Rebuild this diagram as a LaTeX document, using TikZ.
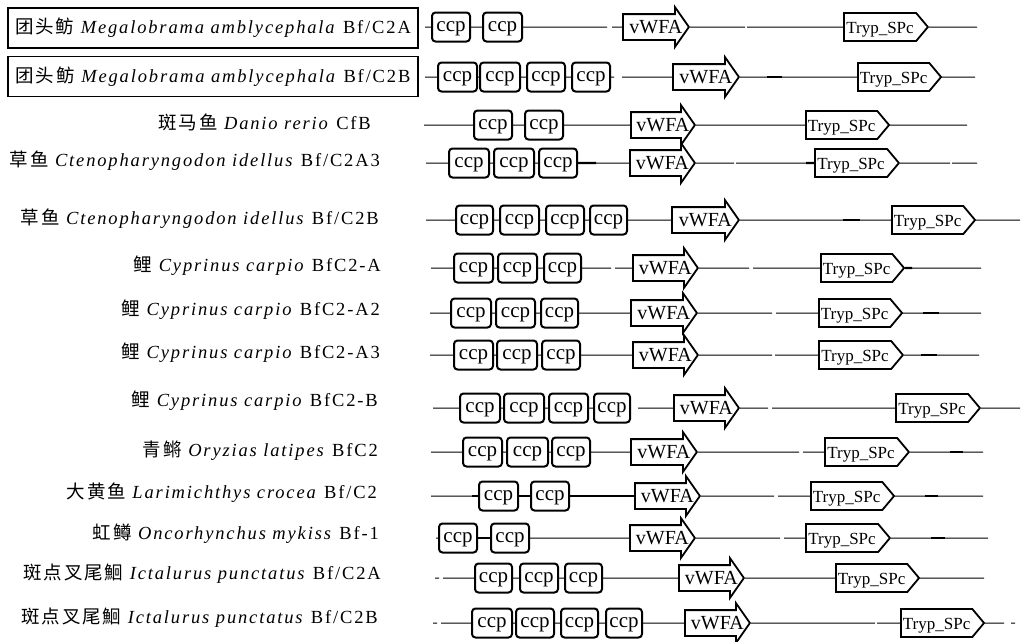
\documentclass[tikz,border=0pt]{standalone}
\usepackage{fontspec}
\setmainfont{Liberation Serif}
\newfontfamily\labfont[LetterSpace=10]{Liberation Serif}
\newfontfamily\cjkfont[LetterSpace=10]{Noto Sans CJK SC}
\usetikzlibrary{shapes.arrows,shapes.symbols}
\newcommand\fishlab[3]{{\cjkfont #1}\ \textit{#2}\ #3}
\newcommand\ccpN[4]{\node[ccpbox, minimum width={#3-#2}] (#1) at ({(#2+#3)/2},#4) {ccp};}
\newcommand\vwN[4]{\node[vwfa, minimum height={#3-#2}, anchor=tail] (#1) at (#2,#4) {\makebox[44pt][l]{vWFA}};}
\newcommand\trN[4]{\node[tryp, minimum width={#3-#2}, anchor=west] (#1) at (#2,#4) {Tryp\_SPc};}
\newcommand\ptN[3]{\coordinate (#1) at (#2,#3);}
\begin{document}
\begin{tikzpicture}[x=1pt,y=-1pt,
  ccpbox/.style={draw, line width=2pt, rounded corners=3.5pt, minimum height=29pt, inner sep=0pt, text height=12.5pt, text depth=4pt, font=\fontsize{21}{21}\selectfont},
  vwfa/.style={single arrow, draw, line width=1.8pt, single arrow head extend=7pt, single arrow tip angle=110, inner xsep=0.5pt, inner ysep=5pt, text height=13pt, text depth=1pt, font=\fontsize{20}{20}\selectfont},
  tryp/.style={signal, signal to=east, signal pointer angle=100, draw, line width=1.8pt, minimum height=28pt, inner xsep=2pt, inner ysep=0pt, text height=15pt, text depth=3pt, font=\fontsize{17}{17}\selectfont},
  lbl/.style={anchor=east, inner sep=0pt, font=\labfont\fontsize{18.5}{20}\selectfont},
  boxlbl/.style={draw, line width=1.8pt, minimum width=410pt, minimum height=40pt, inner sep=0pt, font=\labfont\fontsize{18.5}{20}\selectfont},
  ln/.style={line width=1pt},
  thk/.style={line width=2.4pt}]
\useasboundingbox (0,0) rectangle (1022,641);

% ---------- labels ----------
\node[boxlbl] (L1) at (213,28) {\fishlab{团头鲂}{Megalobrama amblycephala}{Bf/C2A}};
\node[boxlbl] (L2) at (213,76.5) {\fishlab{团头鲂}{Megalobrama amblycephala}{Bf/C2B}};
\node[lbl] (L3) at (371,122) {\fishlab{斑马鱼}{Danio rerio}{CfB}};
\node[lbl] (L4) at (380,161) {\fishlab{草鱼}{Ctenopharyngodon idellus}{Bf/C2A3}};
\node[lbl] (L5) at (379,219) {\fishlab{草鱼}{Ctenopharyngodon idellus}{Bf/C2B}};
\node[lbl] (L6) at (381,266) {\fishlab{鲤}{Cyprinus carpio}{BfC2-A}};
\node[lbl] (L7) at (380,310) {\fishlab{鲤}{Cyprinus carpio}{BfC2-A2}};
\node[lbl] (L8) at (380,353) {\fishlab{鲤}{Cyprinus carpio}{BfC2-A3}};
\node[lbl] (L9) at (378,401) {\fishlab{鲤}{Cyprinus carpio}{BfC2-B}};
\node[lbl] (L10) at (378,451) {\fishlab{青鳉}{Oryzias latipes}{BfC2}};
\node[lbl] (L11) at (377,493) {\fishlab{大黄鱼}{Larimichthys crocea}{Bf/C2}};
\node[lbl] (L12) at (379,534) {\fishlab{虹鳟}{Oncorhynchus mykiss}{Bf-1}};
\node[lbl] (L13) at (381,574) {\fishlab{斑点叉尾鮰}{Ictalurus punctatus}{Bf/C2A}};
\node[lbl] (L14) at (378,618) {\fishlab{斑点叉尾鮰}{Ictalurus punctatus}{Bf/C2B}};

% ---------- row 1 ----------
\ccpN{c1a}{432}{470}{27} \ccpN{c1b}{483}{522}{27}
\vwN{v1}{622}{688}{27} \trN{t1}{843}{927}{27}
\ptN{s1}{425}{27} \ptN{g1a}{607}{27} \ptN{g1b}{612}{27} \ptN{g1c}{745}{27} \ptN{g1d}{747}{27} \ptN{e1}{977}{27}
\draw[ln] (s1) -- (c1a) (c1a) -- (c1b) (c1b) -- (g1a) (g1b) -- (v1.tail) (v1.tip) -- (g1c) (g1d) -- (t1) (t1) -- (e1);

% ---------- row 2 ----------
\ccpN{c2a}{438}{477}{77} \ccpN{c2b}{480}{520}{77} \ccpN{c2c}{527}{565}{77} \ccpN{c2d}{572}{610}{77}
\vwN{v2}{672}{738}{77} \trN{t2}{857}{940}{77}
\ptN{s2}{425}{77} \ptN{g2a}{614}{77} \ptN{g2b}{622}{77} \ptN{k2a}{767}{77} \ptN{k2b}{782}{77} \ptN{e2}{975}{77}
\draw[ln] (s2) -- (c2a) (c2a) -- (c2b) (c2b) -- (c2c) (c2c) -- (c2d) (c2d) -- (g2a) (g2b) -- (v2.tail) (v2.tip) -- (t2) (t2) -- (e2);
\draw[thk] (k2a) -- (k2b);

% ---------- row 3 ----------
\ccpN{c3a}{474}{512}{125} \ccpN{c3b}{525}{563}{125}
\vwN{v3}{630}{694}{125} \trN{t3}{805}{888}{125}
\ptN{s3}{424}{125} \ptN{e3}{967}{125}
\draw[ln] (s3) -- (c3a) (c3a) -- (c3b) (c3b) -- (v3.tail) (v3.tip) -- (t3) (t3) -- (e3);

% ---------- row 4 ----------
\ccpN{c4a}{449}{489}{163} \ccpN{c4b}{494}{534}{163} \ccpN{c4c}{539}{577}{163}
\vwN{v4}{629}{694}{163} \trN{t4}{814}{898}{163}
\ptN{s4}{426}{163} \ptN{k4a}{596}{163} \ptN{g4a}{734}{163} \ptN{g4b}{736}{163} \ptN{k4b}{806}{163}
\ptN{g4c}{950}{163} \ptN{g4d}{952}{163} \ptN{e4}{977}{163}
\draw[ln] (s4) -- (c4a) (c4a) -- (c4b) (c4b) -- (c4c) (k4a) -- (v4.tail) (v4.tip) -- (g4a) (g4b) -- (t4) (t4) -- (g4c) (g4d) -- (e4);
\draw[thk] (c4c) -- (k4a) (k4b) -- (t4);

% ---------- row 5 ----------
\ccpN{c5a}{456}{493}{220} \ccpN{c5b}{500}{539}{220} \ccpN{c5c}{546}{584}{220} \ccpN{c5d}{590}{627}{220}
\vwN{v5}{671}{738}{220} \trN{t5}{891}{973}{220}
\ptN{s5}{426}{220} \ptN{k5a}{843}{220} \ptN{k5b}{860}{220} \ptN{e5}{1020}{220}
\draw[ln] (s5) -- (c5a) (c5a) -- (c5b) (c5b) -- (c5c) (c5c) -- (c5d) (c5d) -- (v5.tail) (v5.tip) -- (t5) (t5) -- (e5);
\draw[thk] (k5a) -- (k5b);

% ---------- row 6 ----------
\ccpN{c6a}{454}{493}{268} \ccpN{c6b}{498}{537}{268} \ccpN{c6c}{544}{581}{268}
\vwN{v6}{632}{697}{268} \trN{t6}{820}{902}{268}
\ptN{s6}{431}{268} \ptN{g6a}{611}{268} \ptN{g6b}{615}{268} \ptN{g6c}{749}{268} \ptN{g6d}{753}{268} \ptN{k6}{912}{268} \ptN{e6}{981}{268}
\draw[ln] (s6) -- (c6a) (c6a) -- (c6b) (c6b) -- (c6c) (c6c) -- (g6a) (g6b) -- (v6.tail) (v6.tip) -- (g6c) (g6d) -- (t6) (k6) -- (e6);
\draw[thk] (t6) -- (k6);

% ---------- row 7 ----------
\ccpN{c7a}{451}{491}{313} \ccpN{c7b}{496}{535}{313} \ccpN{c7c}{541}{578}{313}
\vwN{v7}{630}{696}{313} \trN{t7}{818}{900}{313}
\ptN{s7}{430}{313} \ptN{g7a}{772}{313} \ptN{g7b}{776}{313} \ptN{k7a}{923}{313} \ptN{k7b}{939}{313} \ptN{e7}{981}{313}
\draw[ln] (s7) -- (c7a) (c7a) -- (c7b) (c7b) -- (c7c) (c7c) -- (v7.tail) (v7.tip) -- (g7a) (g7b) -- (t7) (t7) -- (e7);
\draw[thk] (k7a) -- (k7b);

% ---------- row 8 ----------
\ccpN{c8a}{454}{493}{355} \ccpN{c8b}{497}{537}{355} \ccpN{c8c}{542}{580}{355}
\vwN{v8}{632}{697}{355} \trN{t8}{818}{902}{355}
\ptN{s8}{430}{355} \ptN{g8a}{772}{355} \ptN{g8b}{775}{355} \ptN{k8a}{921}{355} \ptN{k8b}{937}{355} \ptN{e8}{979}{355}
\draw[ln] (s8) -- (c8a) (c8a) -- (c8b) (c8b) -- (c8c) (c8c) -- (v8.tail) (v8.tip) -- (g8a) (g8b) -- (t8) (t8) -- (e8);
\draw[thk] (k8a) -- (k8b);

% ---------- row 9 ----------
\ccpN{c9a}{460}{500}{408} \ccpN{c9b}{504}{544}{408} \ccpN{c9c}{549}{588}{408} \ccpN{c9d}{594}{630}{408}
\vwN{v9}{673}{738}{408} \trN{t9}{895}{979}{408}
\ptN{s9}{433}{408} \ptN{g9a}{638}{408} \ptN{g9b}{768}{408} \ptN{g9c}{772}{408} \ptN{e9}{1020}{408}
\draw[ln] (s9) -- (c9a) (c9a) -- (c9b) (c9b) -- (c9c) (c9c) -- (c9d) (g9a) -- (v9.tail) (v9.tip) -- (g9b) (g9c) -- (t9) (t9) -- (e9);

% ---------- row 10 ----------
\ccpN{c10a}{463}{502}{452} \ccpN{c10b}{507}{548}{452} \ccpN{c10c}{552}{590}{452}
\vwN{v10}{630}{696}{452} \trN{t10}{824}{908}{452}
\ptN{s10}{431}{452} \ptN{g10a}{799}{452} \ptN{g10b}{803}{452} \ptN{k10a}{950}{452} \ptN{k10b}{963}{452} \ptN{e10}{983}{452}
\draw[ln] (s10) -- (c10a) (c10a) -- (c10b) (c10b) -- (c10c) (c10c) -- (v10.tail) (v10.tip) -- (g10a) (g10b) -- (t10) (t10) -- (e10);
\draw[thk] (k10a) -- (k10b);

% ---------- row 11 ----------
\ccpN{c11a}{479}{518}{496} \ccpN{c11b}{531}{569}{496}
\vwN{v11}{634}{699}{496} \trN{t11}{810}{893}{496}
\ptN{s11}{431}{496} \ptN{k11}{472}{496} \ptN{g11a}{774}{496} \ptN{g11b}{778}{496} \ptN{k11a}{925}{496} \ptN{k11b}{938}{496} \ptN{e11}{983}{496}
\draw[ln] (s11) -- (k11) (v11.tip) -- (g11a) (g11b) -- (t11) (t11) -- (e11);
\draw[thk] (k11) -- (c11a) (k11a) -- (k11b);
\draw[line width=1.4pt] (c11a) -- (c11b) (c11b) -- (v11.tail);

% ---------- row 12 ----------
\ccpN{c12a}{439}{477}{538} \ccpN{c12b}{491}{529}{538}
\vwN{v12}{629}{694}{538} \trN{t12}{805}{889}{538}
\ptN{s12}{436}{538} \ptN{g12a}{780}{538} \ptN{g12b}{784}{538} \ptN{k12a}{931}{538} \ptN{k12b}{945}{538} \ptN{e12}{988}{538}
\draw[ln] (s12) -- (c12a) (c12b) -- (v12.tail) (v12.tip) -- (g12a) (g12b) -- (t12) (t12) -- (e12);
\draw[thk] (c12a) -- (c12b) (k12a) -- (k12b);

% ---------- row 13 ----------
\ccpN{c13a}{475}{512}{578} \ccpN{c13b}{520}{558}{578} \ccpN{c13c}{565}{602}{578}
\vwN{v13}{678}{743}{578} \trN{t13}{835}{918}{578}
\ptN{d13a}{435}{578} \ptN{d13b}{439}{578} \ptN{s13}{443}{578} \ptN{e13}{984}{578}
\draw[ln] (d13a) -- (d13b) (s13) -- (c13a) (c13a) -- (c13b) (c13b) -- (c13c) (c13c) -- (v13.tail) (v13.tip) -- (t13) (t13) -- (e13);

% ---------- row 14 ----------
\ccpN{c14a}{472}{512}{623} \ccpN{c14b}{516}{554}{623} \ccpN{c14c}{561}{598}{623} \ccpN{c14d}{606}{642}{623}
\vwN{v14}{684}{749}{623} \trN{t14}{900}{981}{623}
\ptN{d14a}{433}{623} \ptN{d14b}{437}{623} \ptN{s14}{441}{623} \ptN{g14a}{875}{623} \ptN{g14b}{877}{623}
\ptN{e14}{1004}{623} \ptN{d14c}{1011}{623} \ptN{d14d}{1015}{623}
\draw[ln] (d14a) -- (d14b) (s14) -- (c14a) (c14a) -- (c14b) (c14b) -- (c14c) (c14c) -- (c14d) (c14d) -- (v14.tail) (v14.tip) -- (g14a) (g14b) -- (t14) (t14) -- (e14) (d14c) -- (d14d);
\end{tikzpicture}
\end{document}
